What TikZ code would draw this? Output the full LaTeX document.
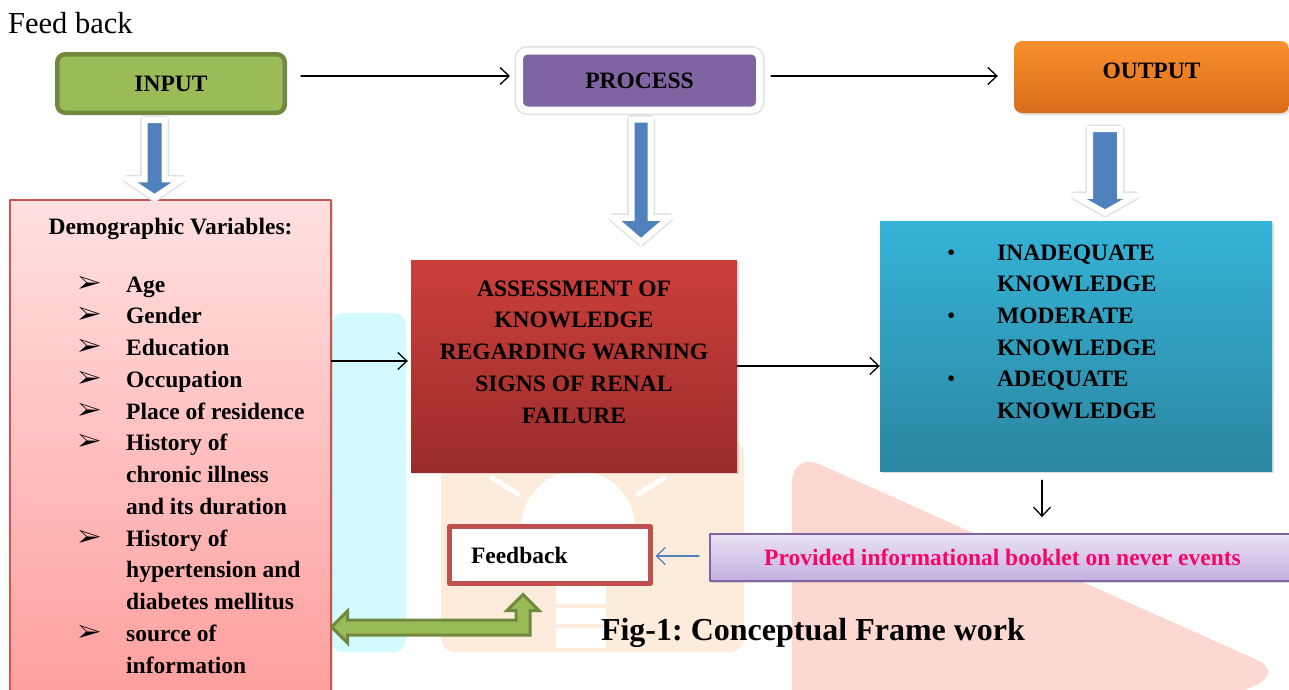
\documentclass[tikz,border=0pt]{standalone}
\usepackage{fontspec}
\setmainfont{Liberation Serif}
\usepackage{pifont}
\usetikzlibrary{arrows.meta,calc,shadows}
\definecolor{inputgreen}{HTML}{9BBB59}
\definecolor{greenedge}{HTML}{71893F}
\definecolor{procpurple}{HTML}{8064A2}
\definecolor{outtop}{HTML}{FA8F2C}
\definecolor{outbot}{HTML}{D96C1B}
\definecolor{arrowblue}{HTML}{4F81BD}
\definecolor{demotop}{HTML}{FFE0E0}
\definecolor{demobot}{HTML}{FF9E9E}
\definecolor{demoedge}{HTML}{CC5552}
\definecolor{asstop}{HTML}{CC3F3B}
\definecolor{assbot}{HTML}{9B2C2A}
\definecolor{knowtop}{HTML}{35B3D8}
\definecolor{knowbot}{HTML}{2B86A0}
\definecolor{booktop}{HTML}{EAE2F6}
\definecolor{bookbot}{HTML}{C4B0E0}
\definecolor{bookpink}{HTML}{F5076A}
\definecolor{fbred}{HTML}{C0504D}
\definecolor{wmcyan}{HTML}{D2FAFF}
\definecolor{wmpeach}{HTML}{FDEBDC}
\definecolor{wmpink}{HTML}{FDD8D0}
\frenchspacing
% blue block arrow: top point, tip, shaft half width, head half width, head length
\newcommand{\bluedown}[5]{%
  \draw[blockarr] let \p1=(#1), \p2=(#2) in
    (\x1-#3,\y1) -- (\x1+#3,\y1) -- (\x1+#3,\y2+#5) -- (\x1+#4,\y2+#5)
    -- (\x1,\y2) -- (\x1-#4,\y2+#5) -- (\x1-#3,\y2+#5) -- cycle;}

\begin{document}
\begin{tikzpicture}[x=1pt,y=-1pt,line join=round,line cap=round,
    font=\fontsize{23.5}{31.75}\selectfont\bfseries,
    thinarr/.style={line width=1.3pt,-{Straight Barb[length=9pt,width=17pt]}},
    roundbox/.style={rectangle,rounded corners=8pt,inner sep=0pt},
    plainbox/.style={rectangle,inner sep=0pt,drop shadow={opacity=0.25,shadow xshift=2pt,shadow yshift=-2pt}},
    blockarr/.style={fill=arrowblue,draw=white,line width=6pt,line join=miter,
      preaction={draw=black!12,line width=9pt}},
    greenarr/.style={fill=inputgreen,draw=greenedge,line width=3pt,line join=miter}]
  \useasboundingbox (0,0) rectangle (1289,689);
  % faint background marks
  \fill[wmcyan,rounded corners=12pt] (331,313) rectangle (406,652);
  \fill[wmpeach,rounded corners=14pt] (441,440) rectangle (744,652);
  \fill[white] (578,528) circle (57pt);
  \fill[white] (556,580) rectangle (606,648);
  \draw[wmpeach,line width=4pt] (556,606) -- (606,606) (556,626) -- (606,626);
  \draw[white,line width=5pt] (492,478) -- (518,494) (664,478) -- (638,494);
  \fill[wmpink,rounded corners=30pt] (792,452) -- (1284,672) -- (792,900) -- cycle;

  \node[anchor=base west,inner sep=0pt,font=\fontsize{30.5}{34}\selectfont] (fbtop) at (8,33) {Feed back};

  % top row
  \node[roundbox,fill=inputgreen,draw=greenedge,line width=4.5pt,
    minimum width=227.5pt,minimum height=58.5pt] (input) at (171,83.5) {INPUT};
  \node[roundbox,fill=procpurple,draw=white,line width=7pt,
    preaction={draw=black!12,line width=10pt},
    minimum width=240pt,minimum height=59pt] (process) at (639.5,80.5) {PROCESS};
  \node[roundbox,top color=outtop,bottom color=outbot,text depth=12pt,
    drop shadow={opacity=0.25,shadow xshift=2pt,shadow yshift=-2pt},
    minimum width=275pt,minimum height=72pt] (output) at (1151.5,77) {OUTPUT};

  \draw[thinarr,shorten >=6pt] ([xshift=14pt,yshift=7.5pt]input.east) coordinate (a1) -- (a1 -| process.west);
  \draw[thinarr,shorten >=16pt] ([xshift=8pt,yshift=4.5pt]process.east) coordinate (a2) -- (a2 -| output.west);

  % middle row
  \node[plainbox,top color=demotop,bottom color=demobot,draw=demoedge,line width=1.2pt,
    minimum width=321pt,minimum height=500pt] (demo) at (170.5,450) {};
  \node[anchor=base,inner sep=0pt] (demohead) at (170.5,234) {Demographic Variables:};
  \foreach \b/\t [count=\i from 0] in {1/Age,1/Gender,1/Education,1/Occupation,
      1/Place of residence,1/History of,0/chronic illness,0/and its duration,
      1/History of,0/hypertension and,0/diabetes mellitus,1/source of,0/information} {
    \node[anchor=base west,inner sep=0pt] (dv\i) at (126,{292+31.75*\i}) {\t};
    \ifnum\b=1
      \node[anchor=base west,inner sep=0pt,font=\fontsize{25}{25}\selectfont] (db\i) at (78,{291+31.75*\i}) {\ding{226}};
    \fi
  }

  \node[plainbox,top color=asstop,bottom color=assbot,
    minimum width=326pt,minimum height=212pt] (assess) at (574,366) {};
  \node[align=center,inner sep=0pt] (asstxt) at (574,352)
    {ASSESSMENT OF\\KNOWLEDGE\\REGARDING WARNING\\SIGNS OF RENAL\\FAILURE};

  \node[plainbox,top color=knowtop,bottom color=knowbot,
    minimum width=392pt,minimum height=250pt] (know) at (1076,346) {};
  \foreach \b/\t [count=\i from 0] in {1/INADEQUATE,0/KNOWLEDGE,1/MODERATE,
      0/KNOWLEDGE,1/ADEQUATE,0/KNOWLEDGE} {
    \node[anchor=base west,inner sep=0pt] (kn\i) at (997,{260+31.7*\i}) {\t};
    \ifnum\b=1
      \node[anchor=base west,inner sep=0pt,font=\fontsize{23.5}{24}\selectfont] (kb\i) at (947,{260+31.7*\i}) {\textbullet};
    \fi
  }

  % blue block arrows
  \coordinate (inA) at ([xshift=-16.5pt,yshift=-5pt]input.south);
  \coordinate (prA) at ([xshift=1.5pt,yshift=-6pt]process.south);
  \coordinate (ouA) at ([xshift=-46.5pt,yshift=-16pt]output.south);
  \bluedown{inA}{$(inA |- demo.north)+(0,-2)$}{10pt}{27pt}{18pt}
  \bluedown{prA}{$(prA |- assess.north)+(0,-18)$}{9.5pt}{28pt}{24pt}
  \bluedown{ouA}{$(ouA |- know.north)+(0,-8)$}{15pt}{30pt}{17pt}

  \draw[thinarr,shorten >=3pt] ([yshift=5pt]assess.west -| demo.east) -- ([yshift=5pt]assess.west);
  \draw[thinarr] (assess.east) -- (assess.east -| know.west);

  % bottom row
  \node[plainbox,top color=booktop,bottom color=bookbot,draw=procpurple,line width=1.8pt,
    text=bookpink,minimum width=585pt,minimum height=47pt] (booklet) at (1002.5,557.5)
    {Provided informational booklet on never events};
  \draw[thinarr,shorten >=16pt] ([xshift=-34pt,yshift=-9pt]know.south) coordinate (a3) -- (a3 |- booklet.north);

  \node[rectangle,draw=fbred,line width=5pt,fill=white,inner xsep=21.5pt,inner ysep=0pt,
    text width=158pt,align=left,minimum height=57pt] (feedback) at (550,555) {Feedback};
  \draw[thinarr,draw=arrowblue,line width=1.2pt,shorten >=2.5pt] ([xshift=-10pt,yshift=1.5pt]booklet.west) coordinate (a4) -- (a4 -| feedback.east);

  \coordinate (gtip) at ([xshift=-27pt,yshift=-8.5pt]feedback.south);
  \coordinate (gend) at (demo.east |- 0,627);
  \draw[greenarr] let \p1=(gtip), \p2=(gend) in
    (\x1,\y1) -- (\x1+16pt,\y1-16pt) -- (\x1+7pt,\y1-16pt) -- (\x1+7pt,\y2-8pt)
    -- (\x2+16pt,\y2-8pt) -- (\x2+16pt,\y2-16pt) -- (\x2,\y2) -- (\x2+16pt,\y2+16pt)
    -- (\x2+16pt,\y2+7pt) -- (\x1-7pt,\y2+7pt) -- (\x1-7pt,\y1-16pt) -- (\x1-16pt,\y1-16pt) -- cycle;

  \node[anchor=base,inner sep=0pt,font=\fontsize{32}{36}\selectfont\bfseries] (title) at (813,640)
    {Fig-1: Conceptual Frame work};
\end{tikzpicture}
\end{document}
